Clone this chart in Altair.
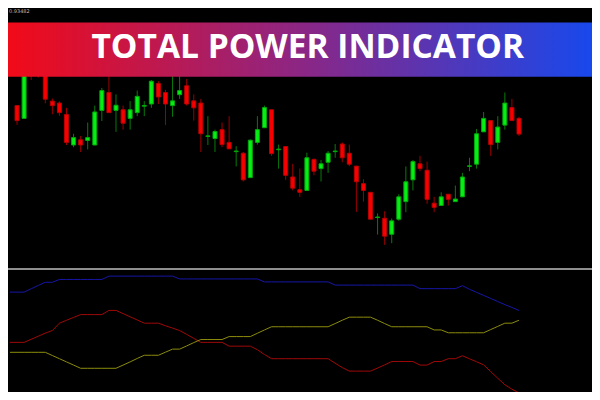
import altair as alt
import pandas as pd

# ---------------- data ----------------
candle_idx = list(range(1, 73))
opens = [198.3, 185, 250, 248, 232, 203, 201, 189, 157.3, 162.7,
         162, 157.3, 193.3, 212, 193.3, 194, 185, 191, 197.7, 200,
         221.3, 212, 198.3, 209.7, 219, 203.3, 201, 166.2, 164, 173.3,
         160, 150.4, 148.7, 123.3, 160, 175.3, 194, 152.4, 155.7, 124,
         110.7, 110, 142.3, 132.7, 139.3, 150.4, 158.3, 148.7, 135.3, 117,
         108, 81.7, 81, 64.3, 80, 98.3, 121, 137.7, 131, 96.7,
         94.3, 106, 98.3, 103.3, 135, 137.3, 171, 182.7, 160, 178,
         196.3, 185]
closes = [182.7, 238, 232, 234, 205, 198.3, 191, 160, 165, 157.3,
          165, 191.7, 214, 191, 198.7, 180, 194, 208, 198.5, 223.7,
          207.3, 200, 203.3, 214, 200, 196, 169, 166.8, 171.3, 157.7,
          153.3, 151, 121, 162.3, 173.3, 196.3, 148.3, 153, 125.7, 112.3,
          108, 144, 130, 137.7, 148.7, 151, 144, 137.3, 119, 110,
          80, 82.3, 62.3, 78.3, 103.3, 119, 140, 132.7, 100.7, 92.3,
          103.3, 100.7, 101, 124, 135.6, 169, 185, 157.7, 176, 201,
          182.7, 168.7]
highs = [198.3, 245, 255, 252, 238, 205.7, 202.7, 196, 169, 166.7,
         180.7, 198.3, 216.7, 235, 210, 198.3, 203, 214, 203, 225,
         223.7, 214.7, 235, 237, 226, 210, 205.3, 187.3, 173.3, 180.7,
         187.3, 156, 150, 163, 187.3, 198.3, 194, 157.7, 155.7, 137.7,
         132.7, 149.3, 143.3, 141.7, 151, 158.3, 160, 157.7, 135.3, 121.7,
         108, 86, 88.3, 80.7, 106, 135, 141.7, 146, 140, 103.3,
         108, 106, 115, 128.3, 144, 174, 191.7, 182.7, 187.3, 212,
         205.3, 186.7]
lows = [178.3, 185, 225, 227.5, 200.7, 189.3, 187.7, 157.3, 155, 150,
        152.7, 157, 182.3, 191, 171, 173.3, 173.3, 187.3, 187.3, 196,
        200, 178, 186.7, 205.3, 198.3, 182.7, 150, 157.3, 150, 155,
        153.3, 135, 119.3, 123, 157.7, 175.3, 146, 132.7, 121, 110,
        103.3, 110, 125.7, 119.3, 128.3, 144, 139.3, 135.3, 87.7, 98.3,
        80, 64, 53.3, 55, 78.3, 87.3, 110, 130, 96, 87.3,
        94.3, 94.3, 98.3, 103.3, 130, 132.7, 171, 146, 152.7, 173.3,
        182.7, 166.7]

power_idx = list(range(0, 73))
total_power = [81.3, 81.3, 81.3, 84.0, 86.7, 89.3, 89.3, 91.6, 91.6, 91.6,
               91.6, 91.6, 91.6, 91.6, 94.3, 94.3, 94.3, 94.3, 94.3, 94.3,
               94.3, 94.3, 94.3, 94.3, 92.0, 92.0, 92.0, 92.0, 92.0, 92.0,
               92.0, 92.0, 92.0, 92.0, 92.0, 92.0, 89.6, 89.6, 89.6, 89.6,
               89.6, 89.6, 89.6, 89.6, 89.6, 89.6, 87.0, 87.0, 87.0, 87.0,
               87.0, 87.0, 87.0, 87.0, 87.0, 87.0, 87.0, 87.0, 84.1, 84.1,
               84.1, 84.1, 84.1, 84.1, 86.5, 83.6, 81.1, 78.6, 76.1, 73.6,
               71.1, 68.8, 66.4]
bull_power = [40.4, 40.4, 40.4, 42.9, 45.4, 47.9, 50.0, 56.0, 58.4, 60.7,
              63.0, 63.0, 63.0, 63.0, 66.4, 66.4, 63.8, 61.2, 58.6, 56.0,
              56.0, 56.0, 53.9, 52.0, 50.0, 46.9, 43.6, 40.4, 40.4, 40.4,
              40.4, 37.3, 37.3, 37.3, 37.3, 34.4, 30.5, 27.1, 27.1, 27.1,
              27.1, 27.1, 27.1, 27.1, 27.1, 27.1, 23.4, 19.9, 17.0, 17.0,
              17.0, 17.0, 19.5, 22.1, 24.8, 24.8, 24.8, 24.8, 21.9, 21.9,
              24.8, 24.8, 27.1, 27.1, 29.5, 27.0, 24.6, 22.1, 16.6, 11.2,
              5.9, 2.3, -0.8]
bear_power = [32.3, 32.3, 32.3, 32.3, 32.3, 32.3, 29.7, 27.1, 24.5, 21.9,
              19.3, 19.3, 19.3, 19.3, 19.3, 19.3, 21.9, 24.5, 27.3, 29.9,
              29.9, 29.9, 32.4, 34.9, 34.9, 37.5, 40.2, 42.7, 42.7, 42.7,
              42.7, 45.1, 45.1, 45.1, 45.1, 47.8, 50.5, 53.1, 53.1, 53.1,
              53.1, 53.1, 53.1, 53.1, 53.1, 53.1, 55.7, 58.4, 60.9, 60.9,
              60.9, 60.9, 58.4, 55.7, 53.1, 53.1, 53.1, 53.1, 53.1, 53.1,
              50.5, 50.5, 48.2, 48.2, 48.2, 48.2, 48.2, 48.2, 50.8, 53.4,
              56.0, 56.0, 58.4]

series_names = ["Total power", "Bulls power", "Bears power"]
series_colors = ["#1616A8", "#A00808", "#8C8C0C"]

title_text = "TOTAL POWER INDICATOR"
corner_text = "0.93482"

# ---------------- layout ----------------
W, H = 584, 384
SX, SY = W / 600.0, H / 400.0

candles = pd.DataFrame({"idx": candle_idx, "open": opens, "close": closes,
                        "high": highs, "low": lows})
candles["up"] = candles["close"] >= candles["open"]
candles["body"] = candles["up"].map({True: "#06EE14", False: "#F80000"})
candles["edge"] = candles["up"].map({True: "#00A80A", False: "#B80000"})
candles["wick"] = candles["up"].map({True: "#0A7A0A", False: "#9A0000"})

lines = pd.concat([
    pd.DataFrame({"idx": power_idx, "value": vals, "series": name})
    for name, vals in zip(series_names, [total_power, bull_power, bear_power])
])

xscale = alt.Scale(domain=[0.432, 81.62], nice=False, zero=False)
pscale = alt.Scale(domain=[-100, 300], nice=False, zero=False)
iscale = alt.Scale(domain=[0, 100], range=[H, 272 * SY], nice=False, zero=False)

wicks = alt.Chart(candles).mark_rule(strokeWidth=1).encode(
    x=alt.X("idx:Q", scale=xscale, axis=None),
    y=alt.Y("low:Q", scale=pscale, axis=None),
    y2="high:Q",
    color=alt.Color("wick:N", scale=None),
)

bodies = alt.Chart(candles).mark_bar(size=4, strokeWidth=1).encode(
    x=alt.X("idx:Q", scale=xscale, axis=None),
    y=alt.Y("open:Q", scale=pscale, axis=None),
    y2="close:Q",
    color=alt.Color("body:N", scale=None),
    stroke=alt.Stroke("edge:N", scale=None),
)

power = alt.Chart(lines).mark_line(strokeWidth=1, clip=True, interpolate="linear").encode(
    x=alt.X("idx:Q", scale=xscale, axis=None),
    y=alt.Y("value:Q", scale=iscale, axis=None),
    color=alt.Color("series:N", scale=alt.Scale(domain=series_names, range=series_colors), legend=None),
    detail="series:N",
)

one = pd.DataFrame({"a": [0]})

separator = alt.Chart(one).mark_rule(color="#8E8E8E", strokeWidth=2).encode(
    x=alt.value(0), x2=alt.value(W), y=alt.value(272 * SY)
)

banner = alt.Chart(one).mark_rect(
    color=alt.Gradient(
        gradient="linear",
        stops=[alt.GradientStop(color="#F20A18", offset=0),
               alt.GradientStop(color="#8C2684", offset=0.5),
               alt.GradientStop(color="#1848EC", offset=1)],
        x1=0, x2=1, y1=0, y2=0,
    )
).encode(x=alt.value(0), x2=alt.value(W), y=alt.value(15 * SY), y2=alt.value(71.7 * SY))

title = alt.Chart(one).mark_text(
    text=title_text, font="Open Sans", fontSize=33.5, fontWeight="bold",
    color="#FFFFFF", align="center", baseline="alphabetic",
).encode(x=alt.value(308 * SX), y=alt.value(51.7 * SY))

corner = alt.Chart(one).mark_text(
    text=corner_text, font="DejaVu Sans", fontSize=5, color="#BBBBBB",
    align="left", baseline="top",
).encode(x=alt.value(1), y=alt.value(1))

chart = alt.layer(
    wicks, bodies, power, separator, banner, title, corner
).resolve_scale(y="independent").properties(
    width=W, height=H, background="#000000", padding=0,
    autosize=alt.AutoSizeParams(type="none"),
).configure_view(strokeWidth=0)

chart.save("out.html", embed_options={"renderer": "svg", "actions": False})
